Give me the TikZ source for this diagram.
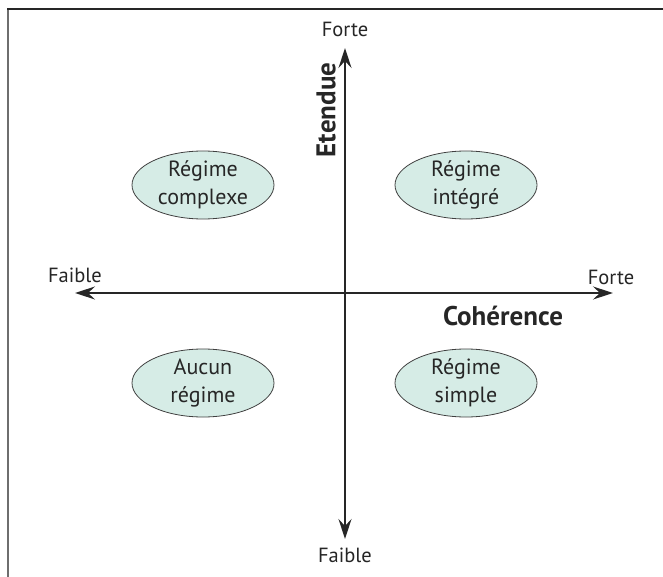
\documentclass[tikz,border=0pt]{standalone}
\usepackage{fontspec}
\setmainfont{PT Sans}
\usepackage{tikz}
\usetikzlibrary{arrows,arrows.meta,shapes,backgrounds,calc}

\definecolor{regimefill}{HTML}{D6ECE6}
\definecolor{framegray}{HTML}{6E6E6E}

\begin{document}
\begin{tikzpicture}[x=1pt,y=-1pt,
    regime/.style={ellipse,draw=black!75,line width=0.8pt,fill=regimefill,
      minimum width=142pt,minimum height=68pt,inner sep=0pt},
    dedans/.style={align=center,text=black!85,
      font=\fontsize{22}{28}\selectfont},
    axe/.style={line width=1.8pt,black!85,
      -{Stealth[length=20pt,width=13pt,inset=7pt]}},
    bout/.style={font=\fontsize{20.5}{24}\selectfont,text=black!85},
    titre/.style={font=\bfseries\fontsize{27}{30}\selectfont,text=black!85}]
    \useasboundingbox (0,0) rectangle (663,577);
    \def\ox{345}\def\oy{293}
    \def\axes{
      \coordinate (o) at (\ox,\oy);
      \coordinate (nord) at (\ox,48);
      \coordinate (sud) at (\ox,539);
      \coordinate (ouest) at (75,\oy);
      \coordinate (est) at (613,\oy);
    }
    \def\showFrame{
      % Cadre coupe
      \draw [framegray,line width=2pt] (8,577) -- (8,9);
      \draw [black!85,line width=2pt] (7,9) -- (663,9);
    }
    \def\showAxes{
      \draw [axe] (o) -- (nord);
      \draw [axe] (o) -- (sud);
      \draw [axe] (o) -- (ouest);
      \draw [axe] (o) -- (est);
    }
    \def\showLabels{
      \node [bout] (forteN) at (\ox,29) {Forte};
      \node [bout] (faibleS) at (\ox,555) {Faible};
      \node [bout] (faibleO) at (75,275) {Faible};
      \node [bout] (forteE) at (611,277) {Forte};
      \node [titre,rotate=90] (etendue) at (326,110) {Etendue};
      \node [titre] (coherence) at (503,316) {Cohérence};
    }
    \def\showRegimes{
      \node [regime,label={[dedans]center:Régime\\complexe}] (complexe) at (203,185) {};
      \node [regime,label={[dedans]center:Régime\\intégré}] (integre) at (466,185) {};
      \node [regime,label={[dedans]center:Aucun\\régime}] (aucun) at (203,383) {};
      \node [regime,label={[dedans]center:Régime\\simple}] (simple) at (466,383) {};
    }
    \axes
    \showFrame
    \showAxes
    \showLabels
    \showRegimes
\end{tikzpicture}
\end{document}
